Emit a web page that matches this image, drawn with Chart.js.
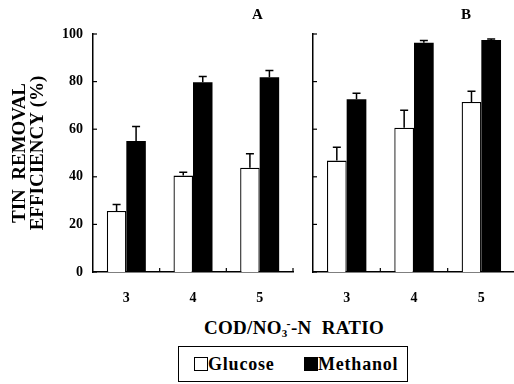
<!DOCTYPE html>
<html>
<head>
<meta charset="utf-8">
<script src="https://cdn.jsdelivr.net/npm/chart.js@4.4.0/dist/chart.umd.min.js"></script>
<style>
  html, body { margin:0; padding:0; overflow:hidden; background:#fff; }
  #wrap { position:relative; width:514px; height:384px; overflow:hidden; background:#fff; }
  canvas { position:absolute; }
  .serif { font-family:"Liberation Serif","Times New Roman",serif; font-weight:bold; color:#000; }
  .panelTitle { position:absolute; font-size:15px; line-height:15px; }
  #xtitle { position:absolute; left:194px; width:200px; top:318px; text-align:center; font-size:19px; line-height:20px; white-space:nowrap; letter-spacing:0.3px; }
  #xtitle sub { font-size:11px; vertical-align:-3px; line-height:0; }
  #xtitle sup { font-size:12px; vertical-align:6px; line-height:0; margin-left:-1px; }
  #legend { position:absolute; left:178px; top:346px; width:230px; height:36px; box-sizing:border-box; border:1.5px solid #000; }
  .lg { position:absolute; top:8px; font-size:18px; line-height:18px; letter-spacing:0.8px; white-space:nowrap; }
  .sw { position:absolute; top:10px; width:14px; height:14px; box-sizing:border-box; border:1.5px solid #000; }
</style>
</head>
<body>
<div id="wrap">
  <canvas id="chartA" width="300" height="315" style="left:0;top:0"></canvas>
  <canvas id="chartB" width="215" height="315" style="left:300px;top:0"></canvas>
  <div class="serif panelTitle" style="left:252px;top:7px">A</div>
  <div class="serif panelTitle" style="left:461px;top:7px">B</div>
  <div id="xtitle" class="serif">COD/NO<sub>3</sub><sup>-</sup>-N&nbsp;&nbsp;RATIO</div>
  <div id="legend">
    <div class="sw" style="left:15px;background:#fff"></div>
    <div class="lg serif" style="left:29px">Glucose</div>
    <div class="sw" style="left:125px;background:#000"></div>
    <div class="lg serif" style="left:139px">Methanol</div>
  </div>
</div>
<script>
// ---- data ----
const categories = ['3', '4', '5'];
const yTickValues = [0, 20, 40, 60, 80, 100];
const seriesNames = ['Glucose', 'Methanol'];
// Panel A
const glucoseA = [25.6, 40.5, 43.8];
const glucoseErrA = [2.8, 1.4, 5.9];
const methanolA = [55.0, 79.7, 81.8];
const methanolErrA = [6.1, 2.4, 2.9];
// Panel B
const glucoseB = [46.8, 60.6, 71.4];
const glucoseErrB = [5.6, 7.4, 4.5];
const methanolB = [72.6, 96.3, 97.5];
const methanolErrB = [2.5, 1.0, 0.4];

const SERIF = '"Liberation Serif", "Times New Roman", serif';

// error bars + inward ticks plugin
const extras = {
  id: 'extras',
  afterDatasetsDraw(chart) {
    const ctx = chart.ctx;
    const ys = chart.scales.y;
    ctx.save();
    ctx.strokeStyle = '#000';
    ctx.lineWidth = 1.5;
    chart.data.datasets.forEach((ds, di) => {
      const meta = chart.getDatasetMeta(di);
      meta.data.forEach((bar, i) => {
        const err = ds.errors[i];
        const x = bar.x;
        const yTop = bar.y;
        const yErr = ys.getPixelForValue(ds.data[i] + err);
        ctx.beginPath();
        ctx.moveTo(x, yTop);
        ctx.lineTo(x, yErr);
        ctx.moveTo(x - 4, yErr);
        ctx.lineTo(x + 4, yErr);
        ctx.stroke();
      });
    });
    // inward y ticks
    const xs = chart.scales.x;
    const left = chart.chartArea.left;
    ctx.lineWidth = 1.2;
    yTickValues.forEach(v => {
      const y = ys.getPixelForValue(v);
      ctx.beginPath();
      ctx.moveTo(left, y);
      ctx.lineTo(left + 4, y);
      ctx.stroke();
    });
    // inward x ticks at category boundaries
    const bottom = chart.chartArea.bottom;
    const n = categories.length;
    for (let i = 1; i <= n; i++) {
      const x = xs.left + (xs.right - xs.left) * i / n;
      ctx.beginPath();
      ctx.moveTo(x, bottom);
      ctx.lineTo(x, bottom - 4);
      ctx.stroke();
    }
    ctx.restore();
  }
};

function makeChart(id, gVals, gErr, mVals, mErr, showY) {
  return new Chart(document.getElementById(id), {
    type: 'bar',
    data: {
      labels: categories,
      datasets: [
        { label: seriesNames[0], data: gVals, errors: gErr, backgroundColor: '#fff', borderColor: '#000', borderWidth: 1.3 },
        { label: seriesNames[1], data: mVals, errors: mErr, backgroundColor: '#000', borderColor: '#000', borderWidth: 0 }
      ]
    },
    options: {
      responsive: false,
      animation: false,
      devicePixelRatio: 1,
      layout: { padding: { top: 34, right: showY ? 7 : 0, bottom: 0, left: 0 } },
      datasets: { bar: { barPercentage: 1.0, categoryPercentage: 0.585 } },
      plugins: { legend: { display: false }, tooltip: { enabled: false }, title: { display: false } },
      scales: {
        x: {
          type: 'category',
          offset: true,
          grid: { display: false, drawTicks: false },
          border: { display: true, color: '#000', width: 1.5 },
          ticks: { color: '#000', padding: 18, font: { family: SERIF, size: 14, weight: 'bold' } },
          afterFit: (s) => { s.height = 315 - 272; }
        },
        y: {
          min: 0, max: 100,
          afterBuildTicks: (s) => { s.ticks = yTickValues.map(v => ({ value: v })); },
          grid: { display: false, drawTicks: false },
          border: { display: true, color: '#000', width: 1.5 },
          ticks: { display: showY, color: '#000', padding: 10, font: { family: SERIF, size: 14, weight: 'bold' } },
          title: {
            display: showY,
            text: ['TIN  REMOVAL', 'EFFICIENCY (%)'],
            color: '#000',
            font: { family: SERIF, size: 19, weight: 'bold', lineHeight: 0.95 },
            padding: { top: 11, bottom: 0 }
          },
          afterFit: (s) => { s.width = showY ? 93 : 13; }
        }
      }
    },
    plugins: [extras]
  });
}

makeChart('chartA', glucoseA, glucoseErrA, methanolA, methanolErrA, true);
makeChart('chartB', glucoseB, glucoseErrB, methanolB, methanolErrB, false);
</script>
</body>
</html>
